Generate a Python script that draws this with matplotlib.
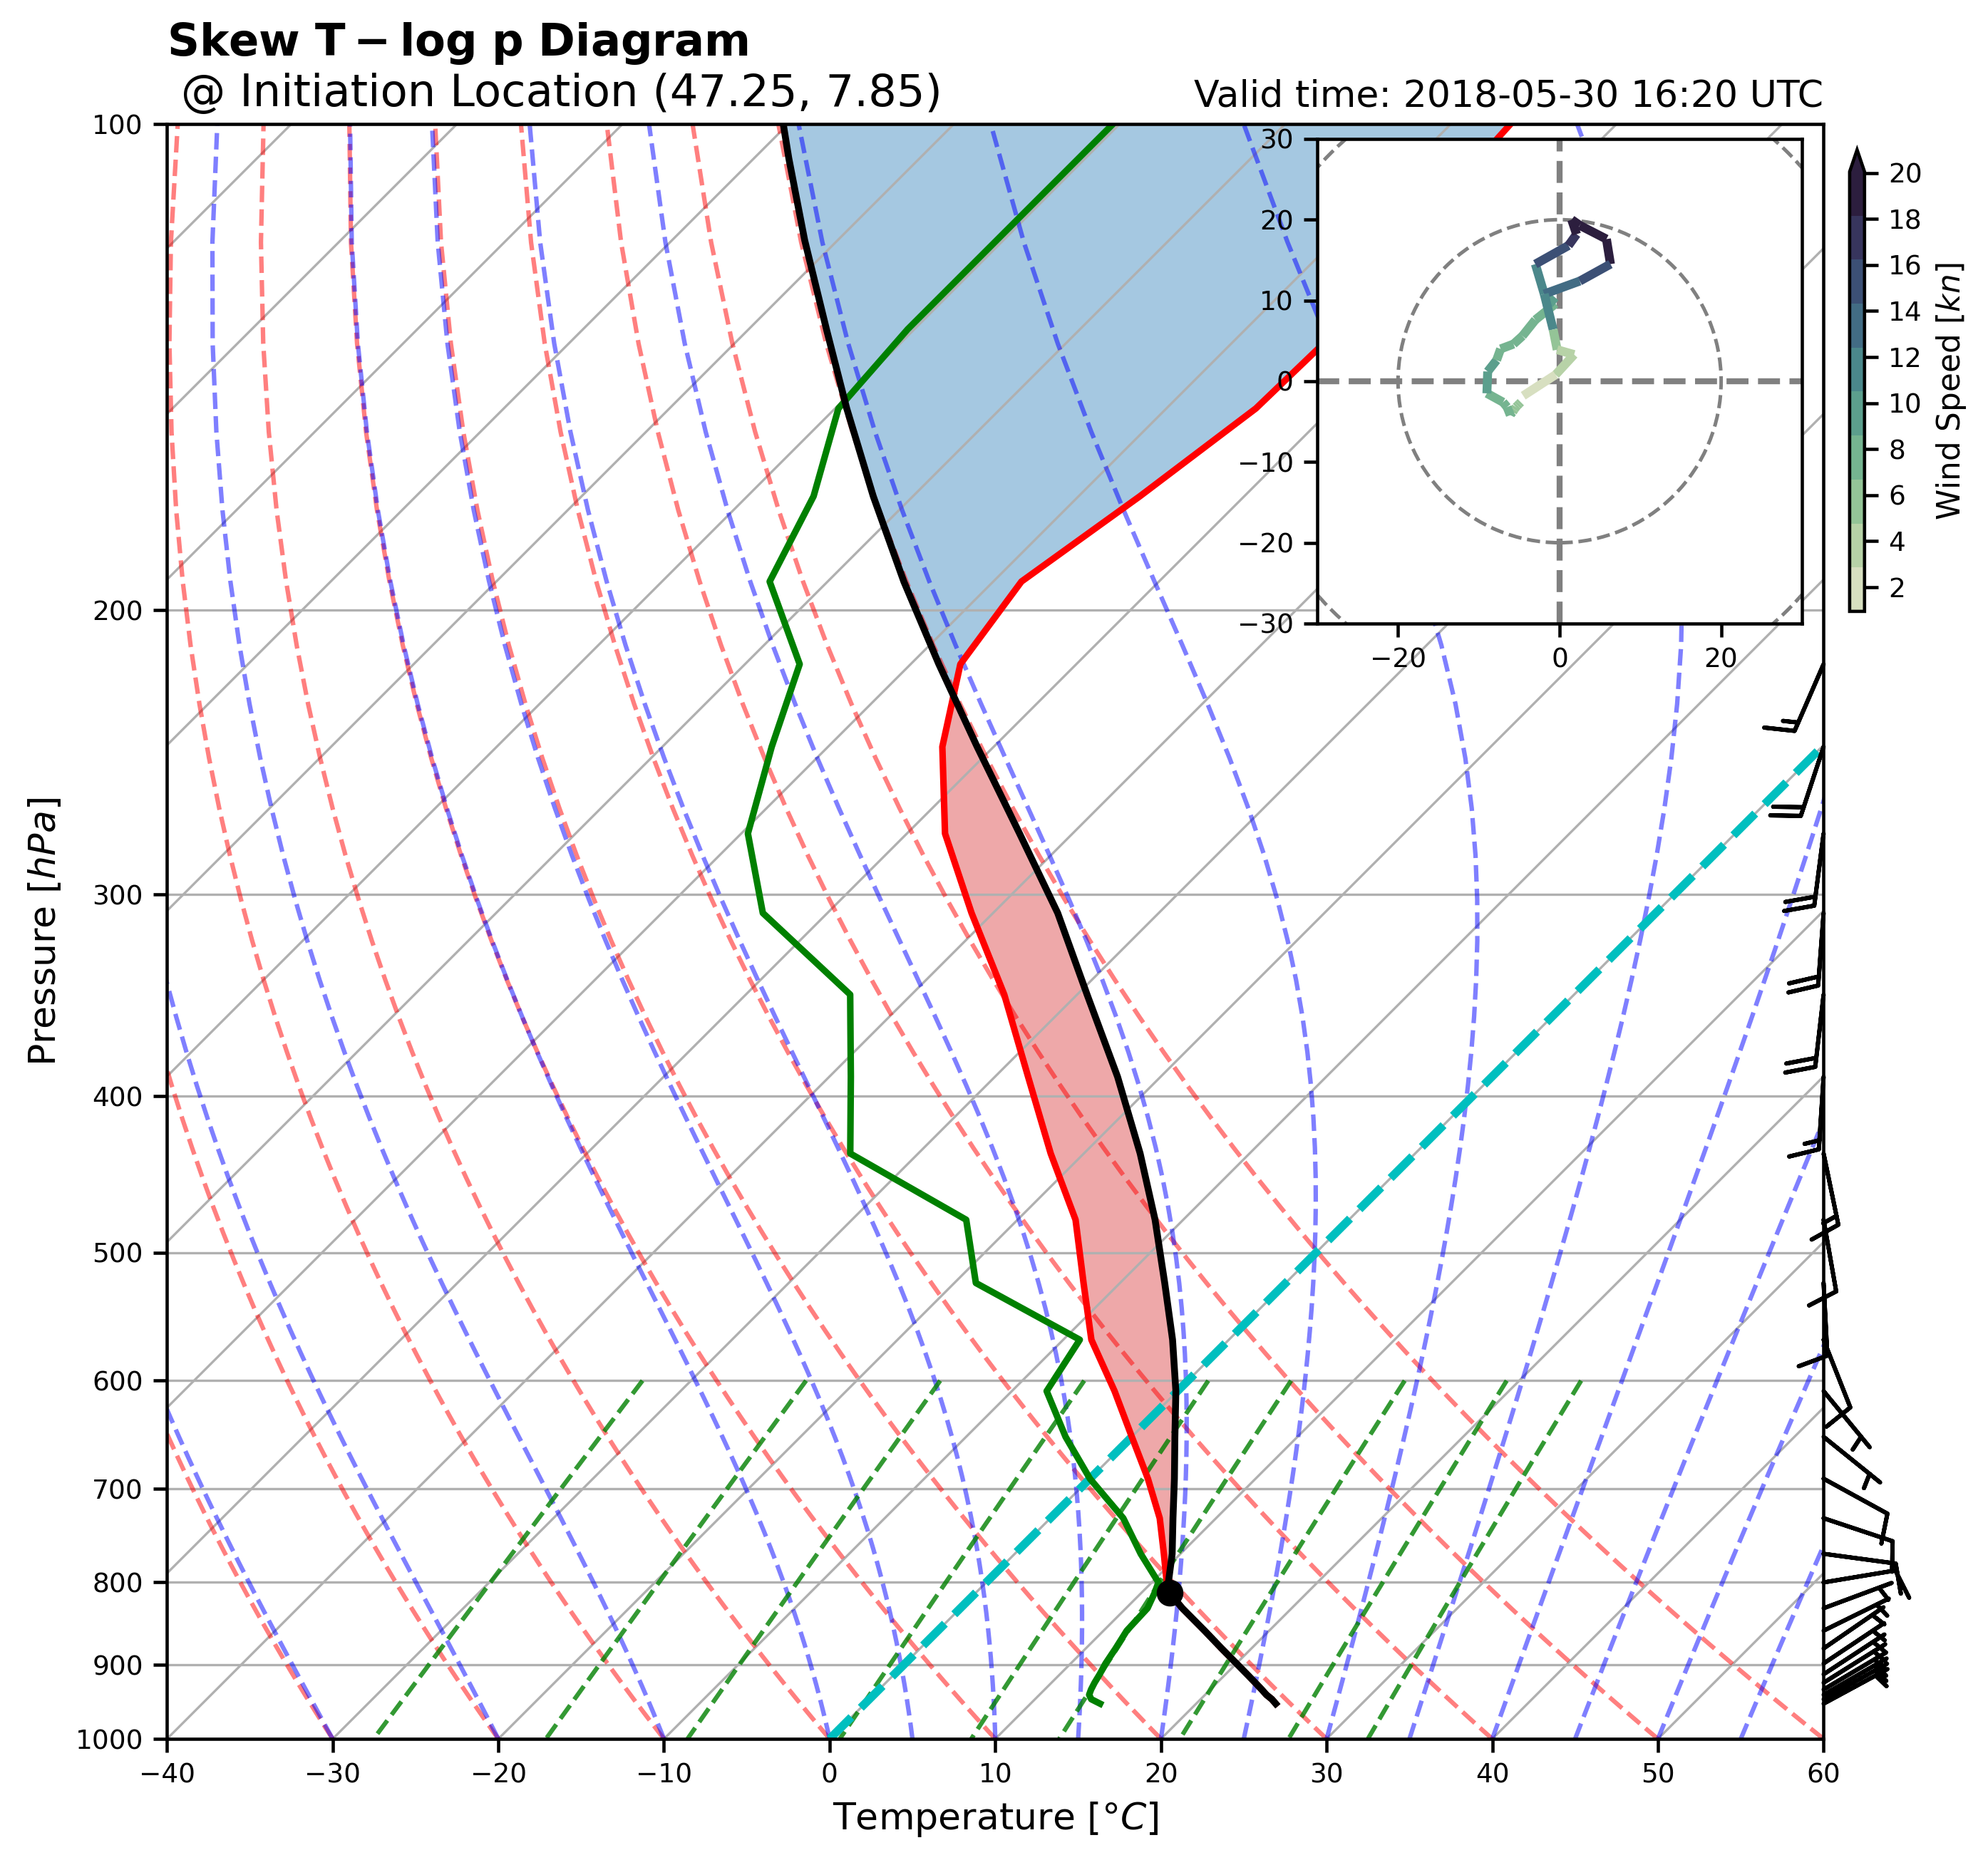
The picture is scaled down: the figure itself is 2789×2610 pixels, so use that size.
import numpy as np
import matplotlib
matplotlib.use("Agg")
import matplotlib.pyplot as plt
import matplotlib.transforms as mtransforms
from matplotlib.collections import LineCollection
from matplotlib.colors import ListedColormap, Normalize
from matplotlib.patches import Circle
from matplotlib.ticker import MultipleLocator, ScalarFormatter, NullLocator
import seaborn as sns

# sounding at the initiation location (hPa, degC)
pres = [951, 945, 939, 932, 923, 912, 898, 879, 857, 830, 812, 800, 768, 730, 690,
        650, 609, 566, 522, 477, 434, 389, 346, 308, 275, 243, 216, 192, 170, 150,
        134, 118, 105, 100]
temp = [24.8, 24.3, 23.7, 23.1, 22.3, 21.3, 20.0, 18.2, 16.1, 13.4, 11.7, 10.9, 9.0, 6.6, 3.5,
        0.0, -3.8, -8.3, -12.2, -16.5, -22.0, -28.0, -34.4, -41.3, -47.7, -53.1, -57.0, -58.3, -56.3, -54.6,
        -54.4, -55.5, -56.2, -56.4]
dewp = [14.2, 13.4, 13.0, 12.8, 12.6, 12.4, 12.1, 11.8, 11.4, 11.3, 10.8, 10.4, 7.6, 4.4, 0.0,
        -4.0, -7.9, -9.0, -18.7, -23.1, -34.1, -38.7, -43.7, -53.9, -59.6, -63.4, -66.7, -73.5, -76.0, -79.8,
        -80.4, -80.4, -80.4, -80.4]
parcel = [24.8, 24.3, 23.7, 23.1, 22.3, 21.3, 20.0, 18.2, 16.1, 13.4, 11.7, 11.0, 9.5, 7.4, 5.1,
          2.6, -0.1, -3.4, -7.3, -11.7, -16.6, -22.6, -29.4, -36.1, -43.2, -51.0, -58.3, -65.4, -72.4, -79.3,
          -85.3, -92.0, -97.9, -100.3]
lcl_p = 812
lcl_t = 11.7

# winds (kn) on the model levels
p_wind = [951, 945, 939, 932, 923, 912, 898, 879, 857, 830, 800, 768, 730, 690, 650,
          609, 566, 522, 477, 434, 389, 346, 308, 275, 243, 216, 192, 170, 150, 134,
          118, 105, 100]
u_wind = [-4.8, -5.0, -5.2, -5.4, -5.6, -5.8, -6.0, -6.1, -6.5, -7.0, -9.0, -8.9, -7.8, -7.3, -5.7,
          -4.6, -3.0, -0.5, -1.9, -3.0, 1.1, 2.1, 1.5, 2.5, 5.8, 6.3, 2.5, -1.9, -0.8, -0.3,
          1.8, -0.5, -4.5]
v_wind = [-2.6, -2.8, -3.0, -3.2, -3.5, -3.8, -4.0, -4.2, -3.2, -2.6, -1.5, 1.2, 2.6, 4.0, 4.6,
          5.6, 7.6, 9.6, 10.8, 14.5, 16.8, 18.2, 20.0, 19.3, 17.6, 14.5, 12.4, 10.8, 6.4, 3.9,
          3.3, 0.8, -1.8]

# background lines (metpy defaults)
dry_t0 = np.arange(-40, 61, 10)
moist_t0 = np.concatenate((np.arange(-40, 0, 10), np.arange(0, 61, 5)))
mix_ratios = [0.0004, 0.001, 0.002, 0.004, 0.007, 0.01, 0.016, 0.024, 0.032]

pres = np.array(pres, dtype=float)
temp = np.array(temp)
dewp = np.array(dewp)
parcel = np.array(parcel)
p_wind = np.array(p_wind, dtype=float)
u_wind = np.array(u_wind)
v_wind = np.array(v_wind)
speed = np.hypot(u_wind, v_wind)

Rd, Cp, Lv, eps = 287.04749, 1004.6662, 2.50084e6, 0.6219569


def moist_lapse(t0, p):
    # RK4 integration of saturated-parcel temperature along pressure
    def dtdp(pp, t):
        es = 6.112 * np.exp(17.67 * (t - 273.15) / (t - 29.65))
        rs = eps * es / (pp - es)
        return (Rd * t + Lv * rs) / (Cp + Lv * Lv * rs * eps / (Rd * t * t)) / pp
    t = np.asarray(t0, dtype=float) + 273.15
    out = [t.copy()]
    for p1, p2 in zip(p[:-1], p[1:]):
        n = 8
        h = (p2 - p1) / n
        pp = p1
        for _ in range(n):
            k1 = dtdp(pp, t)
            k2 = dtdp(pp + h / 2, t + h / 2 * k1)
            k3 = dtdp(pp + h / 2, t + h / 2 * k2)
            k4 = dtdp(pp + h, t + h * k3)
            t = t + h / 6 * (k1 + 2 * k2 + 2 * k3 + k4)
            pp += h
        out.append(t.copy())
    return np.array(out).T - 273.15


DPI = 300
fig = plt.figure(figsize=(2789 / DPI, 2610 / DPI), dpi=DPI)
rect = [0.0840, 0.0651, 0.8333, 0.8682]
ax = fig.add_axes(rect)
ax.set_yscale('log')
ax.set_ylim(1000, 100)
ax.set_xlim(-40, 60)
ax.yaxis.set_major_locator(MultipleLocator(100))
ax.yaxis.set_major_formatter(ScalarFormatter())
ax.yaxis.set_minor_locator(NullLocator())
ax.xaxis.set_major_locator(MultipleLocator(10))
ax.tick_params(labelsize=9, width=1.1, length=4.5)
for sp in ax.spines.values():
    sp.set_linewidth(1.1)
ax.grid(True, axis='y', color='#b0b0b0', lw=0.8)

# skew so that isotherms run at 45 degrees on screen
fw, fh = fig.get_size_inches()
ratio = (rect[3] * fh) / (rect[2] * fw)
skew = (ax.transScale + ax.transLimits
        + mtransforms.Affine2D().skew(np.arctan(ratio), 0) + ax.transAxes)

# isotherms
for t in np.arange(-150, 61, 10):
    ax.plot([t, t], [1000, 100], color='#b0b0b0', lw=0.8, transform=skew, zorder=1.5)

p_bg = np.linspace(1000, 100, 50)
for t0 in dry_t0:
    tt = (t0 + 273.15) * (p_bg / 1000.) ** (Rd / Cp) - 273.15
    ax.plot(tt, p_bg, color='r', ls='--', lw=1.5, alpha=0.5, transform=skew, zorder=1.6)

moist = moist_lapse(moist_t0, p_bg)
for tt in moist:
    ax.plot(tt, p_bg, color='b', ls='--', lw=1.5, alpha=0.5, transform=skew, zorder=1.6)

p_mix = np.linspace(600, 1000, 50)
for w in mix_ratios:
    e = p_mix * w / (eps + w)
    lg = np.log(e / 6.112)
    td = 243.5 * lg / (17.67 - lg)
    ax.plot(td, p_mix, color='g', ls='--', lw=1.5, alpha=0.8, transform=skew, zorder=1.6)

ax.plot([0, 0], [1000, 100], color='c', ls='--', lw=2.8, transform=skew, zorder=1.7)

# CAPE / CIN
ax.fill_betweenx(pres, parcel, temp, where=parcel > temp, facecolor='tab:red', alpha=0.4,
                 interpolate=True, transform=skew, zorder=1)
ax.fill_betweenx(pres, parcel, temp, where=parcel < temp, facecolor='tab:blue', alpha=0.4,
                 interpolate=True, transform=skew, zorder=1)

ax.plot(temp, pres, 'r', lw=2.2, transform=skew, zorder=2.5)
ax.plot(dewp, pres, 'g', lw=2.2, transform=skew, zorder=2.5)
ax.plot(parcel, pres, 'k', lw=2.3, transform=skew, zorder=2.6)
ax.plot([lcl_t], [lcl_p], 'ko', markersize=8, markerfacecolor='black', transform=skew, zorder=2.7)

# wind barbs on the right edge
sel = p_wind >= 210
ax.barbs(np.ones(sel.sum()), p_wind[sel], u_wind[sel], v_wind[sel], linewidth=1.4,
         transform=ax.get_yaxis_transform(), clip_on=False, zorder=3)

ax.set_xlabel(r'Temperature [$\degree C$]', fontsize=12.5)
ax.set_ylabel(r'Pressure [$hPa$]', fontsize=12.5)
ax.set_title(r'$\bf{Skew\ T-log\ p\ Diagram}$' + '\n @ Initiation Location (47.25, 7.85)',
             loc='left', fontsize=15)
ax.set_title('Valid time: 2018-05-30 16:20 UTC', loc='right', fontsize=12.5)

# hodograph inset
axh = fig.add_axes([0.6626, 0.6648, 0.2438, 0.2605])
axh.set_xlim(-30, 30)
axh.set_ylim(-30, 30)
axh.set_aspect('equal', 'box')
for r in (20, 40):
    axh.add_patch(Circle((0, 0), r, fill=False, edgecolor='grey', linestyle='dashed', lw=1.2))
axh.axhline(0, color='grey', linestyle='dashed', lw=2)
axh.axvline(0, color='grey', linestyle='dashed', lw=2)
cmap = ListedColormap(sns.cubehelix_palette(10, start=.5, rot=-.75))
pts = np.column_stack([u_wind, v_wind])
segs = np.stack([pts[:-1], pts[1:]], axis=1)
lc = LineCollection(segs, cmap=cmap, norm=Normalize(speed.min(), speed.max()), linewidth=3)
lc.set_array(speed[:-1])
axh.add_collection(lc)
axh.set_xticks([-20, 0, 20])
axh.set_yticks(np.arange(-30, 31, 10))
axh.tick_params(labelsize=9, width=1.1, length=4.5)
for sp in axh.spines.values():
    sp.set_linewidth(1.1)

cax = fig.add_axes([0.9304, 0.6713, 0.0075, 0.2482])
cb = fig.colorbar(lc, cax=cax, extend='max')
cb.set_ticks(np.arange(2, 21, 2))
cb.ax.tick_params(labelsize=9, width=1.1, length=4.5)
cb.outline.set_linewidth(1.1)
cb.set_label('Wind Speed [$kn$]', fontsize=10.5)

fig.savefig('out.png', dpi=DPI)
